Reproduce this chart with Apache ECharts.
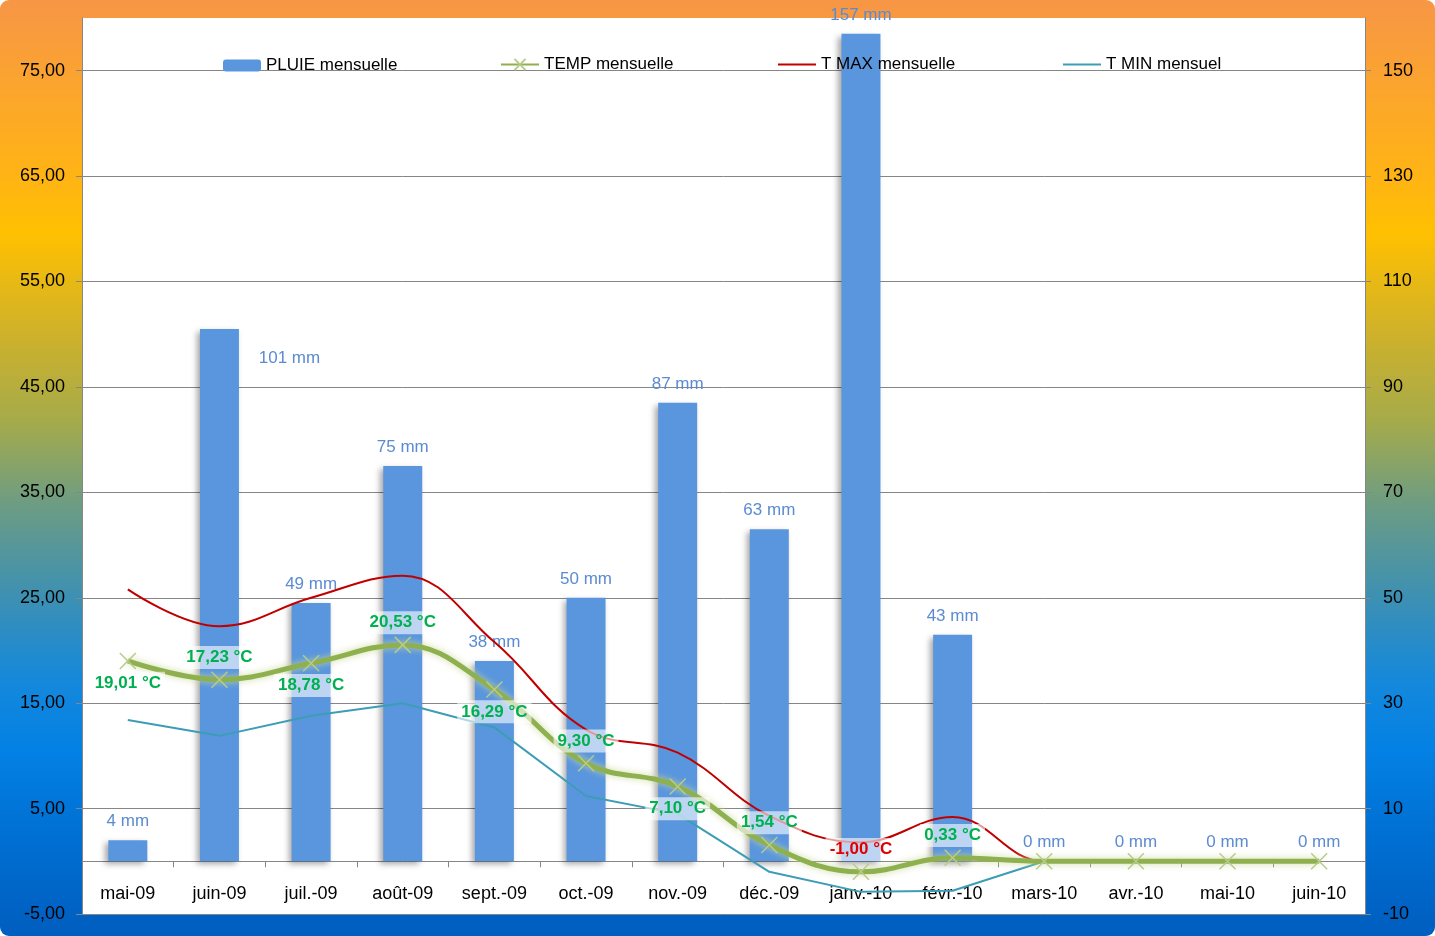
<!DOCTYPE html>
<html>
<head>
<meta charset="utf-8">
<title>Pluie et températures mensuelles</title>
<script src="https://cdn.jsdelivr.net/npm/echarts@6/dist/echarts.min.js"></script>
<style>
html, body { margin: 0; padding: 0; background: #fff; }
#main { width: 1435px; height: 936px; border-radius: 9px; overflow: hidden; }
</style>
</head>
<body>
<div id="main"></div>
<script>
// données
var mois = ['mai-09', 'juin-09', 'juil.-09', 'août-09', 'sept.-09', 'oct.-09', 'nov.-09',
	'déc.-09', 'janv.-10', 'févr.-10', 'mars-10', 'avr.-10', 'mai-10', 'juin-10'];
var pluie = [4, 101, 49, 75, 38, 50, 87, 63, 157, 43, 0, 0, 0, 0];
var tempMoy = [19.01, 17.23, 18.78, 20.53, 16.29, 9.30, 7.10, 1.54, -1.00, 0.33, 0, 0, 0, 0];
var tMax = [25.8, 22.3, 25.0, 27.1, 20.8, 12.5, 10.3, 4.3, 1.8, 4.2, 0, 0, 0, 0];
var tMin = [13.4, 11.9, 13.8, 15.0, 12.7, 6.2, 4.5, -1.0, -2.9, -2.8, 0, 0, 0, 0];

var police = "'Liberation Sans', 'DejaVu Sans', sans-serif";
// placement des étiquettes de température (comme dans Excel)
var posTemp = ['bottom', 'top', 'bottom', 'top', 'bottom', 'top', 'bottom', 'top', 'top', 'top'];

var myChart = echarts.init(document.getElementById('main'));

function fmt(v) {
	return v.toFixed(2).replace('.', ',');
}

var dataPluie = pluie.map(function(v, i) {
	var item = { value: v };
	if (i === 1) {
		item.label = { offset: [70, 48] };
	}
	return item;
});

var dataTemp = tempMoy.map(function(v, i) {
	var item = { value: v };
	if (v === 0) {
		item.label = { show: false };
	} else {
		item.label = { position: posTemp[i] || 'top' };
		if (v < 0) item.label.color = '#E00000';
	}
	return item;
});

var legendText = { fontSize: 17, color: '#000', fontFamily: police };

var option = {
	backgroundColor: new echarts.graphic.LinearGradient(0, 0, 0, 1, [
		{ offset: 0, color: '#F79646' },
		{ offset: 0.19, color: '#FFB414' },
		{ offset: 0.25, color: '#FFC000' },
		{ offset: 0.36, color: '#CDB12C' },
		{ offset: 0.45, color: '#A5AB4A' },
		{ offset: 0.54, color: '#6C9C84' },
		{ offset: 0.64, color: '#3C90B4' },
		{ offset: 0.73, color: '#1488DC' },
		{ offset: 0.8, color: '#0381E4' },
		{ offset: 0.89, color: '#0070D4' },
		{ offset: 1, color: '#005EBF' }
	]),
	textStyle: { fontFamily: police },
	grid: {
		left: 82,
		right: 70,
		top: 18,
		bottom: 22,
		containLabel: false,
		outerBoundsMode: 'none',
		show: true,
		backgroundColor: '#ffffff',
		borderWidth: 0
	},
	legend: [{
		data: ['PLUIE mensuelle'],
		left: 218, top: 52,
		itemWidth: 38, itemHeight: 12,
		textStyle: legendText
	}, {
		data: ['TEMP mensuelle'],
		left: 495, top: 51,
		itemWidth: 38, itemHeight: 14,
		textStyle: legendText
	}, {
		data: ['T MAX mensuelle'],
		left: 773, top: 51,
		icon: 'rect',
		itemWidth: 38, itemHeight: 2,
		textStyle: legendText
	}, {
		data: ['T MIN mensuel'],
		left: 1058, top: 51,
		icon: 'rect',
		itemWidth: 38, itemHeight: 2,
		textStyle: legendText
	}],
	xAxis: [{
		type: 'category',
		data: mois,
		axisLine: { onZero: true, lineStyle: { color: '#868686' } },
		axisTick: { show: true, length: 6, lineStyle: { color: '#868686' } },
		axisLabel: { show: false }
	}, {
		// axe pour les étiquettes du bas
		type: 'category',
		data: mois,
		position: 'bottom',
		axisLine: { show: false },
		axisTick: { show: false },
		axisLabel: { inside: true, color: '#000', fontSize: 18, margin: 11, fontFamily: police }
	}],
	yAxis: [{
		type: 'value',
		position: 'left',
		min: -5,
		max: 80,
		interval: 10,
		axisLine: { show: true, lineStyle: { color: '#868686' } },
		axisTick: { show: true, length: 6, lineStyle: { color: '#868686' } },
		axisLabel: {
			color: '#000', fontSize: 18, margin: 17, fontFamily: police,
			showMaxLabel: false,
			formatter: function(v) { return fmt(v); }
		},
		splitLine: { show: true, showMaxLine: false, lineStyle: { color: '#868686' } }
	}, {
		type: 'value',
		position: 'right',
		min: -10,
		max: 160,
		interval: 20,
		axisLine: { show: true, lineStyle: { color: '#868686' } },
		axisTick: { show: true, length: 6, lineStyle: { color: '#868686' } },
		axisLabel: { color: '#000', fontSize: 18, margin: 18, fontFamily: police, showMaxLabel: false },
		splitLine: { show: false }
	}],
	series: [{
		name: 'PLUIE mensuelle',
		type: 'bar',
		yAxisIndex: 1,
		barWidth: 39,
		data: dataPluie,
		itemStyle: {
			color: '#5A96DE',
			shadowColor: 'rgba(0,0,0,0.35)',
			shadowBlur: 6,
			shadowOffsetX: -3,
			shadowOffsetY: 3
		},
		label: {
			show: true,
			position: 'top',
			distance: 10,
			color: '#5B8BD0',
			fontSize: 17,
			fontFamily: police,
			formatter: function(p) { return p.value + ' mm'; }
		},
		z: 2
	}, {
		name: 'T MAX mensuelle',
		type: 'line',
		smooth: 0.4,
		data: tMax,
		showSymbol: false,
		symbol: 'none',
		itemStyle: { color: '#C00000' },
		lineStyle: { color: '#C00000', width: 2 },
		z: 3
	}, {
		name: 'T MIN mensuel',
		type: 'line',
		data: tMin,
		showSymbol: false,
		symbol: 'none',
		itemStyle: { color: '#3C9DB5' },
		lineStyle: { color: '#3C9DB5', width: 2 },
		z: 3
	}, {
		name: 'TEMP mensuelle',
		type: 'line',
		smooth: 0.4,
		data: dataTemp,
		symbol: 'path://M0,0L10,10M10,0L0,10',
		symbolSize: 16,
		itemStyle: {
			color: '#C9D8A4',
			borderColor: '#B9CB8A',
			borderWidth: 1.5
		},
		lineStyle: {
			color: '#8FB04F',
			width: 5,
			shadowColor: 'rgba(200,215,150,0.9)',
			shadowBlur: 7
		},
		label: {
			show: true,
			color: '#00B050',
			fontWeight: 'bold',
			fontSize: 17,
			fontFamily: police,
			distance: 2,
			backgroundColor: 'rgba(255,255,255,0.6)',
			padding: [3, 4],
			formatter: function(p) { return fmt(p.value) + ' °C'; }
		},
		z: 4
	}]
};

myChart.setOption(option);
</script>
</body>
</html>
